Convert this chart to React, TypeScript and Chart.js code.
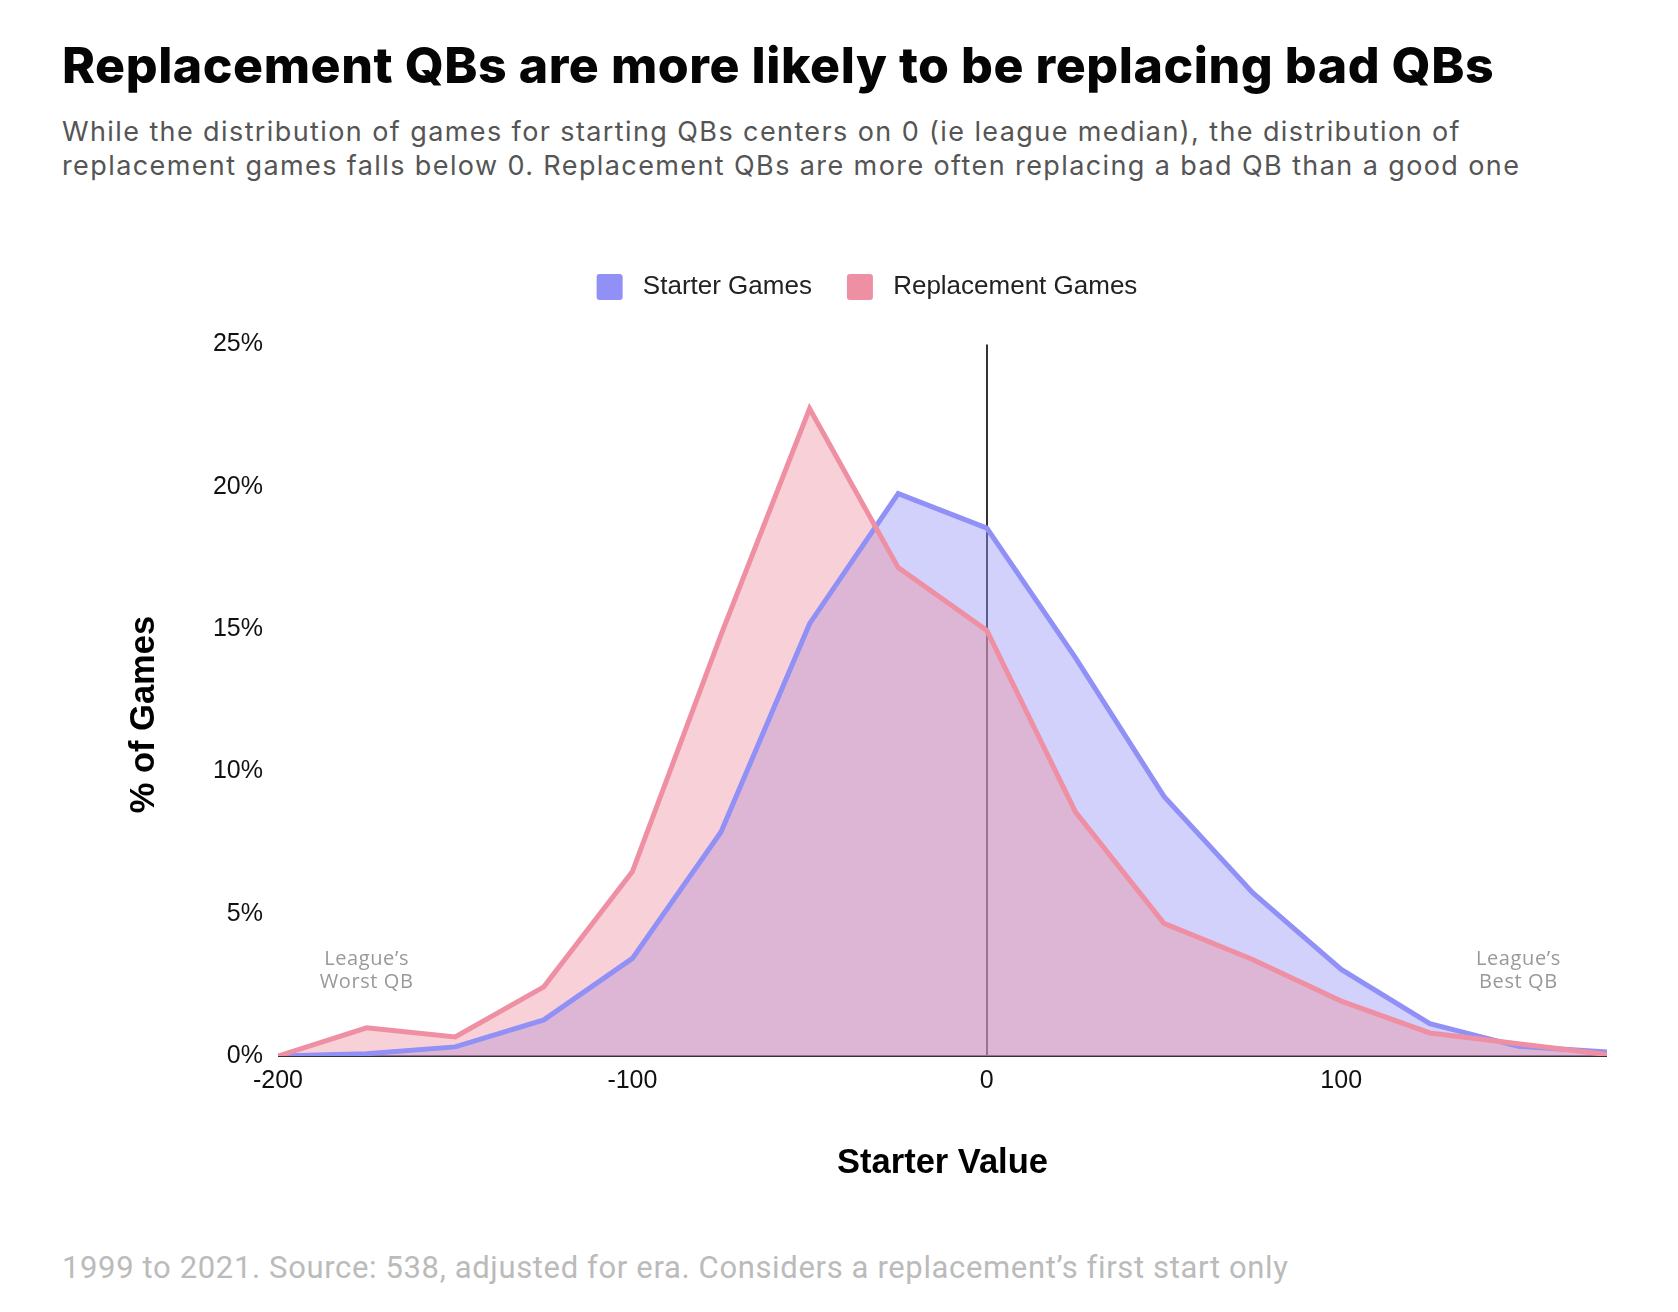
import React, { useEffect, useRef } from "react";
import { Chart, registerables } from "chart.js";

Chart.register(...registerables);

// ---- data ----
const X_VALUES = [-200, -175, -150, -125, -100, -75, -50, -25, 0, 25, 50, 75, 100, 125, 150, 175];
const STARTER_GAMES = [0, 0.08, 0.32, 1.27, 3.43, 7.87, 15.19, 19.76, 18.55, 14.0, 9.12, 5.74, 3.04, 1.14, 0.34, 0.14];
const REPLACEMENT_GAMES = [0, 0.99, 0.67, 2.43, 6.48, 14.8, 22.75, 17.16, 14.95, 8.58, 4.66, 3.39, 1.93, 0.81, 0.43, 0.05];
const X_TICKS = [-200, -100, 0, 100];
const Y_TICKS = [0, 5, 10, 15, 20, 25];
const SERIES_NAMES = ["Starter Games", "Replacement Games"];
const NOTE_TEXTS = [["League\u2019s", "Worst QB"], ["League\u2019s", "Best QB"]];
const NOTE_X = [-175, 150];
const NOTE_Y = 3.4;

const TITLE = "Replacement QBs are more likely to be replacing bad QBs";
const SUBTITLE_LINES = [
  "While the distribution of games for starting QBs centers on 0 (ie league median), the distribution of",
  "replacement games falls below 0. Replacement QBs are more often replacing a bad QB than a good one",
];
const FOOTER = "1999 to 2021. Source: 538, adjusted for era. Considers a replacement\u2019s first start only";

const BLUE_LINE = "#9090f6";
const BLUE_FILL = "rgba(149,149,245,0.43)";
const RED_LINE = "#ef8fa3";
const RED_FILL = "rgba(239,144,163,0.42)";

const AXIS_FONT = "'Liberation Sans', Arial, sans-serif";

const notesPlugin = {
  id: "qbNotes",
  afterDatasetsDraw(chart: any) {
    const { ctx, scales } = chart;
    ctx.save();
    ctx.fillStyle = "#999";
    ctx.font = "400 20px 'Open Sans', sans-serif";
    ctx.textAlign = "center";
    ctx.textBaseline = "middle";
    (ctx as any).letterSpacing = "0.6px";
    NOTE_TEXTS.forEach((lines, i) => {
      const x = scales.x.getPixelForValue(NOTE_X[i]);
      const y = scales.y.getPixelForValue(NOTE_Y);
      lines.forEach((t, j) => ctx.fillText(t, x, y + j * 23));
    });
    ctx.restore();
  },
};

export default function App() {
  const canvasRef = useRef<HTMLCanvasElement | null>(null);

  useEffect(() => {
    if (!canvasRef.current) return;
    const chart = new Chart(canvasRef.current, {
      type: "line",
      data: {
        datasets: [
          {
            label: SERIES_NAMES[0],
            data: X_VALUES.map((x, i) => ({ x, y: STARTER_GAMES[i] })),
            borderColor: BLUE_LINE,
            backgroundColor: BLUE_FILL,
            fill: "origin",
            borderWidth: 5,
            pointRadius: 0,
            tension: 0,
            order: 1,
          },
          {
            label: SERIES_NAMES[1],
            data: X_VALUES.map((x, i) => ({ x, y: REPLACEMENT_GAMES[i] })),
            borderColor: RED_LINE,
            backgroundColor: RED_FILL,
            fill: "origin",
            borderWidth: 5,
            pointRadius: 0,
            tension: 0,
            order: 0,
          },
        ],
      },
      options: {
        animation: false,
        responsive: true,
        maintainAspectRatio: false,
        layout: { padding: 0 },
        font: { family: AXIS_FONT },
        plugins: {
          filler: { drawTime: "beforeDatasetsDraw" },
          tooltip: { enabled: false },
          legend: {
            display: true,
            position: "top",
            labels: {
              boxWidth: 26,
              boxHeight: 26,
              padding: 35,
              color: "#222",
              font: { family: AXIS_FONT, size: 26 },
              generateLabels: (c: any) =>
                c.data.datasets.map((ds: any, i: number) => ({
                  text: " " + ds.label,
                  fillStyle: ds.borderColor,
                  strokeStyle: ds.borderColor,
                  lineWidth: 0,
                  hidden: false,
                  datasetIndex: i,
                  borderRadius: 3,
                  fontColor: "#222",
                })),
            },
          },
          subtitle: {
            display: true,
            text: "",
            position: "top",
            weight: 500,
            font: { size: 1, lineHeight: 1 },
            padding: { top: 0, bottom: 33.5 },
          },
        },
        scales: {
          x: {
            type: "linear",
            min: -200,
            max: 175,
            afterBuildTicks: (s: any) => {
              s.ticks = X_TICKS.map((v) => ({ value: v }));
            },
            afterFit: (s: any) => {
              s.height = 140;
            },
            ticks: {
              color: "#111",
              padding: 10,
              font: { family: AXIS_FONT, size: 25 },
            },
            border: { display: false },
            grid: {
              drawTicks: false,
              lineWidth: 2,
              color: (c: any) => (c.tick && c.tick.value === 0 ? "#333" : "rgba(0,0,0,0)"),
            },
            title: {
              display: true,
              text: "Starter Value",
              color: "#000",
              font: { family: AXIS_FONT, size: 34.5, weight: "bold", lineHeight: 1.2 },
              padding: { top: 0, bottom: 12 },
            },
          },
          y: {
            type: "linear",
            min: 0,
            max: 25,
            afterBuildTicks: (s: any) => {
              s.ticks = Y_TICKS.map((v) => ({ value: v }));
            },
            afterFit: (s: any) => {
              s.width = 151;
            },
            ticks: {
              color: "#111",
              padding: 15,
              font: { family: AXIS_FONT, size: 25 },
              callback: (v: any) => `${v}%`,
            },
            border: { display: false },
            grid: {
              drawTicks: false,
              lineWidth: 2,
              color: (c: any) => (c.tick && c.tick.value === 0 ? "#333" : "rgba(0,0,0,0)"),
            },
            title: {
              display: true,
              text: "% of Games   ",
              color: "#000",
              font: { family: AXIS_FONT, size: 34.5, weight: "bold", lineHeight: 1 },
              padding: { top: 0, bottom: 0 },
            },
          },
        },
      },
      plugins: [notesPlugin],
    } as any);
    return () => chart.destroy();
  }, []);

  return (
    <div style={{ position: "absolute", left: 0, top: 0, width: 1678, height: 1312, background: "#fff", overflow: "hidden" }}>
      <div
        style={{
          position: "absolute",
          left: 62,
          top: 40,
          fontFamily: "Inter, sans-serif",
          fontWeight: 800,
          fontSize: 50,
          lineHeight: "50px",
          color: "#050505",
          whiteSpace: "nowrap",
          letterSpacing: "0.55px",
        }}
      >
        {TITLE}
      </div>
      <div
        style={{
          position: "absolute",
          left: 62,
          top: 115,
          fontFamily: "Inter, sans-serif",
          fontWeight: 400,
          fontSize: 27,
          lineHeight: "34px",
          color: "#555",
          whiteSpace: "nowrap",
          letterSpacing: "1.4px",
        }}
      >
        {SUBTITLE_LINES[0]}
        <br />
        {SUBTITLE_LINES[1]}
      </div>
      <div style={{ position: "absolute", left: 127, top: 239, width: 1480, height: 957 }}>
        <canvas ref={canvasRef} />
      </div>
      <div
        style={{
          position: "absolute",
          left: 62,
          top: 1252,
          fontFamily: "Roboto, sans-serif",
          fontSize: 31,
          lineHeight: "31px",
          color: "#bbb",
          whiteSpace: "nowrap",
          letterSpacing: "0.64px",
        }}
      >
        {FOOTER}
      </div>
    </div>
  );
}
